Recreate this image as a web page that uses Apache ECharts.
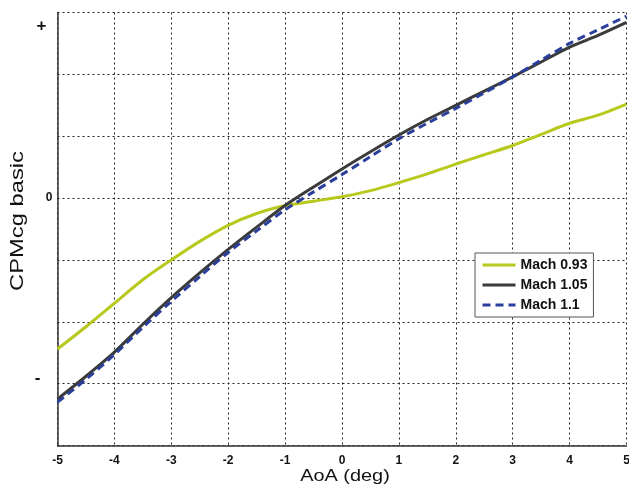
<!DOCTYPE html>
<html>
<head>
<meta charset="utf-8">
<script src="https://cdn.jsdelivr.net/npm/echarts@6/dist/echarts.min.js"></script>
<style>
  html, body { margin: 0; padding: 0; background: #fff; }
  #chart { width: 629px; height: 487px; }
</style>
</head>
<body>
<div id="chart"></div>
<script>
// Angle of attack (deg)
const aoa = [-5, -4.5, -4, -3.5, -3, -2.5, -2, -1.5, -1, -0.5, 0, 0.5, 1, 1.5, 2, 2.5, 3, 3.5, 4, 4.5, 5];

// Basic pitching-moment coefficient about CG, per Mach number
const mach093 = [-2.44, -2.08, -1.70, -1.32, -1.00, -0.70, -0.44, -0.25, -0.12, -0.05, 0.02, 0.12, 0.25, 0.39, 0.55, 0.70, 0.85, 1.03, 1.21, 1.34, 1.52];
const mach105 = [-3.25, -2.88, -2.49, -2.04, -1.61, -1.21, -0.83, -0.47, -0.12, 0.18, 0.47, 0.75, 1.02, 1.27, 1.50, 1.73, 1.96, 2.20, 2.44, 2.63, 2.84];
const mach110 = [-3.30, -2.93, -2.53, -2.09, -1.67, -1.27, -0.88, -0.53, -0.19, 0.10, 0.38, 0.67, 0.96, 1.21, 1.45, 1.70, 1.96, 2.23, 2.50, 2.72, 2.94];

const seriesNames = ['Mach 0.93', 'Mach 1.05', 'Mach 1.1'];

// Qualitative y-axis markers: sign indicators and zero
const yMarkValues = [2.77, 0, -2.92];
const yMarkLabels = ['+', '0', '-'];

const xTitle = 'AoA (deg)';
const yTitle = 'CPMcg basic';

const FONT = 'Liberation Sans';

function pairs(ys) {
  return aoa.map((x, i) => [x, ys[i]]);
}

const chart = echarts.init(document.getElementById('chart'), null, { renderer: 'canvas' });

const gridLine = { show: true, lineStyle: { color: '#222', type: [2, 3], width: 1 } };

chart.setOption({
  animation: false,
  backgroundColor: '#fff',
  grid: { left: 57.5, top: 12.5, right: 2.5, bottom: 41.5, containLabel: false, outerBoundsMode: 'none' },
  legend: {
    data: seriesNames,
    orient: 'vertical',
    left: 475,
    top: 253,
    padding: [5, 6, 5, 6],
    itemWidth: 33,
    itemHeight: 14,
    itemGap: 6,
    backgroundColor: '#fff',
    borderColor: '#555',
    borderWidth: 1,
    borderRadius: 0,
    itemStyle: { opacity: 0, borderWidth: 0 },
    lineStyle: { width: 3 },
    textStyle: { fontFamily: FONT, fontWeight: 'bold', fontSize: 14, color: '#111' }
  },
  xAxis: {
    type: 'value',
    min: -5, max: 5, interval: 1,
    axisLine: { show: true, onZero: false, lineStyle: { color: '#333', width: 1.5 } },
    axisTick: { show: false },
    axisLabel: { fontFamily: FONT, fontWeight: 'bold', fontSize: 12, color: '#111', margin: 9 },
    splitLine: gridLine
  },
  yAxis: [
    {
      type: 'value',
      min: -4, max: 3, interval: 1,
      axisLine: { show: true, onZero: false, lineStyle: { color: '#333', width: 1.5 } },
      axisTick: { show: false },
      axisLabel: { show: false },
      splitLine: gridLine
    },
    {
      type: 'value',
      position: 'left',
      min: -4, max: 3,
      axisLine: { show: false, onZero: false },
      axisTick: { show: false },
      splitLine: { show: false },
      axisLabel: {
        show: true,
        customValues: yMarkValues,
        margin: 5,
        fontFamily: FONT,
        fontWeight: 'bold',
        color: '#111',
        formatter: function (v) {
          const i = yMarkValues.indexOf(v);
          const t = i >= 0 ? yMarkLabels[i] : '';
          if (t === '+') return '{p|+}';
          if (t === '-') return '{m|-}';
          return '{z|' + t + '}';
        },
        rich: {
          p: { fontFamily: FONT, fontWeight: 'bold', fontSize: 17, color: '#111', padding: [0, 6, 0, 0] },
          m: { fontFamily: FONT, fontWeight: 'bold', fontSize: 17, color: '#111', padding: [0, 12, 0, 0] },
          z: { fontFamily: FONT, fontWeight: 'bold', fontSize: 12, color: '#111' }
        }
      }
    }
  ],
  // Axis titles, drawn slightly widened
  graphic: [
    {
      type: 'text', x: 345, y: 476, scaleX: 1.17,
      style: { text: xTitle, fontFamily: FONT, fontSize: 17, fill: '#111', align: 'center', verticalAlign: 'middle' }
    },
    {
      type: 'text', x: 18, y: 221, rotation: Math.PI / 2, scaleX: 1.32,
      style: { text: yTitle, fontFamily: FONT, fontSize: 18, fill: '#111', align: 'center', verticalAlign: 'middle' }
    }
  ],
  series: [
    {
      name: seriesNames[0], type: 'line', data: pairs(mach093), smooth: 0.3,
      symbol: 'none', lineStyle: { color: '#b8c81c', width: 3 }, itemStyle: { color: '#b8c81c' }, z: 2
    },
    {
      name: seriesNames[1], type: 'line', data: pairs(mach105), smooth: 0.3,
      symbol: 'none', lineStyle: { color: '#3b3b3b', width: 3 }, itemStyle: { color: '#3b3b3b' }, z: 3
    },
    {
      name: seriesNames[2], type: 'line', data: pairs(mach110), smooth: 0.3,
      symbol: 'none', lineStyle: { color: '#2a3f9c', width: 3, type: [8, 5] }, itemStyle: { color: '#2a3f9c' }, z: 4
    }
  ]
});
</script>
</body>
</html>
